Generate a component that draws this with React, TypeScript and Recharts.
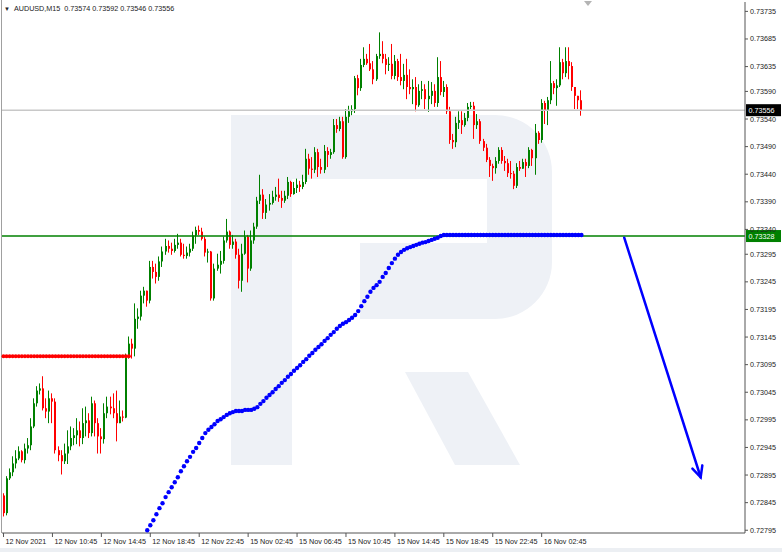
import React from 'react';
import { ComposedChart, Bar, Line, XAxis, YAxis, ReferenceLine } from 'recharts';

// AUDUSD M15 candles, open of each bar = close of the bar before
const firstOpen = 0.72858;
const closes = [
  0.72826, 0.72889, 0.729, 0.72916, 0.72925, 0.72938, 0.72922, 0.72943, 0.72949, 0.72983,
  0.73025, 0.73048, 0.73052, 0.73016, 0.7301, 0.73034, 0.73028, 0.7294, 0.72931, 0.7292,
  0.72934, 0.72947, 0.72962, 0.72967, 0.72976, 0.72962, 0.72989, 0.72994, 0.72971, 0.73025,
  0.72989, 0.72965, 0.7296, 0.73007, 0.73019, 0.73016, 0.73007, 0.72989, 0.73001, 0.72999,
  0.73112, 0.73133, 0.73124, 0.73178, 0.73182, 0.7322, 0.73229, 0.73211, 0.73272, 0.73263,
  0.73254, 0.73282, 0.733, 0.7331, 0.73305, 0.73301, 0.73312, 0.73316, 0.73294, 0.73292,
  0.73298, 0.73305, 0.73329, 0.73339, 0.73336, 0.73323, 0.73298, 0.733, 0.73215, 0.73269,
  0.73276, 0.73283, 0.7332, 0.73336, 0.73312, 0.73318, 0.73294, 0.73247, 0.73296, 0.73327,
  0.73269, 0.7332, 0.73345, 0.73392, 0.73403, 0.7337, 0.73385, 0.73388, 0.73399, 0.73403,
  0.73397, 0.73392, 0.73401, 0.73426, 0.73404, 0.73415, 0.73421, 0.73417, 0.73426, 0.73468,
  0.7345, 0.73448, 0.7348, 0.73453, 0.73448, 0.73482, 0.73475, 0.7348, 0.73529, 0.73522,
  0.73536, 0.73471, 0.73544, 0.73554, 0.73558, 0.73614, 0.73596, 0.73638, 0.73649, 0.73641,
  0.7363, 0.73612, 0.73654, 0.73658, 0.73649, 0.73638, 0.7364, 0.73618, 0.73645, 0.73616,
  0.73609, 0.7362, 0.73598, 0.73594, 0.73598, 0.73565, 0.73591, 0.73594, 0.73576, 0.73582,
  0.73591, 0.73569, 0.73616, 0.73589, 0.73598, 0.73554, 0.73502, 0.73498, 0.73533, 0.73538,
  0.73529, 0.73542, 0.73562, 0.73564, 0.73529, 0.73536, 0.735, 0.73488, 0.73466, 0.73455,
  0.73451, 0.73464, 0.73484, 0.73464, 0.7346, 0.73442, 0.73441, 0.73419, 0.73453, 0.7345,
  0.73462, 0.73455, 0.73484, 0.73469, 0.73515, 0.73502, 0.73569, 0.73556, 0.73574, 0.73605,
  0.73596, 0.73601, 0.73643, 0.73623, 0.73645, 0.73636, 0.73598, 0.73582, 0.73574, 0.73556,
];
const highs = [
  0.72862, 0.72893, 0.72907, 0.72929, 0.7294, 0.72947, 0.7294, 0.72952, 0.72962, 0.72998,
  0.73034, 0.73056, 0.73061, 0.73074, 0.73034, 0.73048, 0.73043, 0.73034, 0.72947, 0.7294,
  0.72952, 0.72976, 0.72983, 0.7298, 0.72998, 0.72992, 0.73016, 0.73019, 0.73007, 0.73037,
  0.7303, 0.72998, 0.7298, 0.73025, 0.73037, 0.73037, 0.73043, 0.73048, 0.7303, 0.73012,
  0.73115, 0.73146, 0.73142, 0.73206, 0.73197, 0.73229, 0.73236, 0.73229, 0.73283, 0.73283,
  0.73278, 0.73291, 0.73309, 0.73323, 0.7332, 0.73316, 0.73323, 0.73332, 0.73323, 0.73314,
  0.73309, 0.73314, 0.73336, 0.73345, 0.73347, 0.73343, 0.73327, 0.73305, 0.73301, 0.73278,
  0.73296, 0.73301, 0.73327, 0.73359, 0.73338, 0.7333, 0.73323, 0.73305, 0.73314, 0.73338,
  0.7333, 0.73338, 0.73352, 0.73399, 0.73439, 0.73413, 0.73395, 0.73404, 0.7341, 0.73417,
  0.73432, 0.7341, 0.7341, 0.73435, 0.73428, 0.73426, 0.73432, 0.73428, 0.73439, 0.73486,
  0.73477, 0.73471, 0.73489, 0.73486, 0.73468, 0.73493, 0.73489, 0.73486, 0.7354, 0.7354,
  0.73544, 0.73544, 0.73558, 0.73564, 0.73565, 0.73618, 0.7362, 0.73649, 0.7367, 0.73658,
  0.73676, 0.73645, 0.73658, 0.73697, 0.73681, 0.73658, 0.73652, 0.73676, 0.73656, 0.73649,
  0.73658, 0.7364, 0.73649, 0.7363, 0.73612, 0.73616, 0.73603, 0.73609, 0.73603, 0.73609,
  0.73607, 0.73603, 0.73652, 0.73645, 0.73609, 0.73603, 0.73562, 0.73513, 0.73544, 0.73554,
  0.73554, 0.73551, 0.73569, 0.73571, 0.73571, 0.73549, 0.7354, 0.73504, 0.73495, 0.73471,
  0.73459, 0.73471, 0.73489, 0.73489, 0.73473, 0.73468, 0.73464, 0.73446, 0.7346, 0.73464,
  0.73468, 0.73468, 0.73489, 0.73486, 0.73531, 0.73518, 0.73576, 0.73573, 0.7358, 0.73645,
  0.73609, 0.73612, 0.7367, 0.73649, 0.7367, 0.7367, 0.73643, 0.73598, 0.73582, 0.73592,
];
const lows = [
  0.7282, 0.72822, 0.72886, 0.72893, 0.72907, 0.72922, 0.72918, 0.72916, 0.72934, 0.7294,
  0.7298, 0.73019, 0.73041, 0.73012, 0.72998, 0.72989, 0.72989, 0.72934, 0.7292, 0.72896,
  0.72915, 0.72915, 0.7294, 0.72949, 0.72951, 0.72947, 0.72951, 0.72965, 0.72962, 0.72965,
  0.72965, 0.72934, 0.72934, 0.72952, 0.72998, 0.73005, 0.72998, 0.72956, 0.72989, 0.72992,
  0.72998, 0.73106, 0.73106, 0.7311, 0.7316, 0.73175, 0.73206, 0.732, 0.73206, 0.73251,
  0.73242, 0.73247, 0.73272, 0.73294, 0.73298, 0.73294, 0.73298, 0.73305, 0.73291, 0.73287,
  0.73287, 0.73291, 0.73301, 0.73314, 0.7333, 0.7332, 0.73291, 0.7328, 0.73211, 0.73211,
  0.73265, 0.7326, 0.73278, 0.73316, 0.73305, 0.73305, 0.73287, 0.73233, 0.73227, 0.73294,
  0.73244, 0.73265, 0.73314, 0.73341, 0.73386, 0.73359, 0.73359, 0.73374, 0.73385, 0.73392,
  0.7339, 0.73379, 0.73388, 0.73395, 0.73399, 0.73403, 0.73406, 0.73408, 0.73413, 0.73422,
  0.73439, 0.73432, 0.73442, 0.73435, 0.73441, 0.73442, 0.73453, 0.73468, 0.73477, 0.73515,
  0.73518, 0.73468, 0.73468, 0.73533, 0.73547, 0.73551, 0.73583, 0.73591, 0.73634, 0.73638,
  0.73627, 0.73603, 0.73609, 0.73649, 0.73641, 0.73621, 0.73627, 0.73612, 0.73612, 0.73609,
  0.73601, 0.73594, 0.73576, 0.73585, 0.73567, 0.73554, 0.73562, 0.73576, 0.73558, 0.73553,
  0.73567, 0.73562, 0.73562, 0.73583, 0.7358, 0.73549, 0.73495, 0.73486, 0.73489, 0.73522,
  0.73513, 0.73526, 0.73536, 0.73558, 0.73504, 0.73522, 0.73495, 0.73482, 0.73462, 0.73435,
  0.73428, 0.73441, 0.73459, 0.73459, 0.73446, 0.73435, 0.73432, 0.73413, 0.73415, 0.73446,
  0.7345, 0.73435, 0.73451, 0.73455, 0.73439, 0.73495, 0.73497, 0.73531, 0.73529, 0.73567,
  0.73585, 0.73564, 0.73598, 0.73612, 0.73616, 0.73612, 0.73591, 0.73558, 0.73558, 0.73546,
];

// red dotted level on the first bars
const levelPrice = 0.7311;
const levelBars = 42;

// blue dotted indicator, starts at bar 47
const dotsStart = 47;
const blueDots = [
  0.72795, 0.72804, 0.72813, 0.72824, 0.72835, 0.72844, 0.72855, 0.72864, 0.72873, 0.72882,
  0.72891, 0.72902, 0.72911, 0.7292, 0.72928, 0.72937, 0.72944, 0.72953, 0.72962, 0.72971,
  0.72977, 0.72982, 0.72987, 0.72993, 0.72996, 0.73, 0.73004, 0.73007, 0.73009, 0.73011,
  0.73011, 0.73011, 0.73013, 0.73013, 0.73013, 0.73015, 0.73018, 0.73024, 0.73029, 0.73035,
  0.7304, 0.73045, 0.73051, 0.73056, 0.73062, 0.73067, 0.73073, 0.73078, 0.73084, 0.73089,
  0.73094, 0.731, 0.73105, 0.73111, 0.73116, 0.73122, 0.73127, 0.73132, 0.73138, 0.73143,
  0.73149, 0.73154, 0.7316, 0.73165, 0.73169, 0.73172, 0.73176, 0.7318, 0.73185, 0.73192,
  0.73201, 0.7321, 0.73218, 0.73227, 0.73234, 0.73239, 0.73245, 0.73254, 0.73261, 0.7327,
  0.73279, 0.73287, 0.73294, 0.73299, 0.73303, 0.73306, 0.73308, 0.7331, 0.73312, 0.73314,
  0.73316, 0.73317, 0.73319, 0.73321, 0.73323, 0.73325, 0.73328, 0.7333, 0.7333, 0.7333,
  0.7333, 0.7333, 0.7333, 0.7333, 0.7333, 0.7333, 0.7333, 0.7333, 0.7333, 0.7333,
  0.7333, 0.7333, 0.7333, 0.7333, 0.7333, 0.7333, 0.7333, 0.7333, 0.7333, 0.7333,
  0.7333, 0.7333, 0.7333, 0.7333, 0.7333, 0.7333, 0.7333, 0.7333, 0.7333, 0.7333,
  0.7333, 0.7333, 0.7333, 0.7333, 0.7333, 0.7333, 0.7333, 0.7333, 0.7333, 0.7333,
  0.7333, 0.7333, 0.7333,
];

const timeLabels = [
  '12 Nov 2021', '12 Nov 10:45', '12 Nov 14:45', '12 Nov 18:45', '12 Nov 22:45', '15 Nov 02:45',
  '15 Nov 06:45', '15 Nov 10:45', '15 Nov 14:45', '15 Nov 18:45', '15 Nov 22:45', '16 Nov 02:45',
];
const priceTicks = [
  0.73735, 0.73685, 0.73635, 0.7359, 0.7354, 0.7349, 0.7344, 0.7339, 0.7334, 0.73295,
  0.73245, 0.73195, 0.73145, 0.73095, 0.73045, 0.72995, 0.72945, 0.72895, 0.72845, 0.72795,
];

const bidPrice = 0.73556;
const levelLine = 0.73328;
const arrowStart = { bar: 203, price: 0.73325 };
const arrowEnd = { bar: 228, price: 0.72891 };
const headerText = 'AUDUSD,M15  0.73574 0.73592 0.73546 0.73556';

const SLOTS = 243;
const FONT = '"Liberation Sans", Arial, sans-serif';
const UP = '#008000';
const DOWN = '#ff0000';

const data = Array.from({ length: SLOTS }, (_, i) => {
  const row: any = { i };
  if (i < closes.length) {
    row.open = i === 0 ? firstOpen : closes[i - 1];
    row.close = closes[i];
    row.high = highs[i];
    row.low = lows[i];
  }
  if (i < levelBars) row.level = levelPrice;
  const b = i - dotsStart;
  if (b >= 0 && b < blueDots.length) row.trend = blueDots[b];
  return row;
});

const Candle = (props: any) => {
  const { x, y, width, height, payload } = props;
  if (!payload || payload.high == null) return null;
  const { open, close, high, low } = payload;
  const top = Math.min(y, y + height);
  const h = Math.abs(height);
  const range = high - low || 1e-9;
  const py = (v: number) => top + ((high - v) / range) * h;
  const cx = Math.round(x + width / 2);
  const color = close > open ? UP : close < open ? DOWN : '#000';
  const b1 = py(Math.max(open, close));
  const b2 = py(Math.min(open, close));
  return (
    <g>
      <rect x={cx - 1} y={top} width={1} height={Math.max(h, 1)} fill={color} />
      <rect x={cx - 1} y={b1} width={2} height={Math.max(b2 - b1, 1)} fill={color} />
    </g>
  );
};

const dotOf = (color: string, r: number) => (p: any) =>
  p.value == null || p.cy == null ? <g key={p.key} /> : <circle key={p.key} cx={p.cx} cy={p.cy} r={r} fill={color} />;

const XTick = (p: any) => {
  const { x, y, payload } = p;
  const idx = Number(payload.value);
  const label = idx % 16 === 0 ? timeLabels[idx / 16] : undefined;
  if (!label) return null;
  return (
    <g>
      <line x1={x} x2={x} y1={y} y2={y + 4} stroke="#555" />
      <text x={x + 2} y={y + 11} fontSize={7.2} fontFamily={FONT} fill="#222">{label}</text>
    </g>
  );
};

const YTick = (p: any) => {
  const { x, y, payload } = p;
  return (
    <g>
      <line x1={x} x2={x + 3} y1={y} y2={y} stroke="#555" />
      <text x={x + 5} y={y + 2.5} fontSize={7.2} fontFamily={FONT} fill="#222">
        {Number(payload.value).toFixed(5)}
      </text>
    </g>
  );
};

const priceTag = (bg: string, value: number) => (props: any) => {
  const vb = props.viewBox || {};
  const x = (vb.x ?? 0) + (vb.width ?? 0) + 1;
  const y = vb.y ?? 0;
  return (
    <g>
      <rect x={x} y={y - 6} width={35} height={12} fill={bg} />
      <text x={x + 2.5} y={y + 2.5} fontSize={7.2} fontFamily={FONT} fill="#fff">{value.toFixed(5)}</text>
    </g>
  );
};

const ArrowShape = (p: any) => {
  const { x1, y1, x2, y2 } = p;
  if ([x1, y1, x2, y2].some((v) => v == null || isNaN(v))) return null;
  const ang = Math.atan2(y2 - y1, x2 - x1);
  const len = 12;
  const spread = Math.PI / 7;
  const ax = x2 - len * Math.cos(ang - spread);
  const ay = y2 - len * Math.sin(ang - spread);
  const bx = x2 - len * Math.cos(ang + spread);
  const by = y2 - len * Math.sin(ang + spread);
  return (
    <g stroke="#0000ff" strokeWidth={2.5} fill="none" strokeLinecap="round">
      <line x1={x1} y1={y1} x2={x2} y2={y2} />
      <polyline points={`${ax},${ay} ${x2},${y2} ${bx},${by}`} />
    </g>
  );
};

// light company logo behind the plot, plus the chart-shift marker
const Watermark = () => (
  <svg width={782} height={552} style={{ position: 'absolute', left: 0, top: 0 }}>
    <g fill="#eef1f6">
      <rect x={231} y={115} width={61} height={350} />
      <path d="M292,115 H495 A57,57 0 0 1 552,172 V262 A57,57 0 0 1 495,319 H360 V243 H487 V179 H292 Z" />
      <polygon points="405,372 468,372 520,465 455,465" />
    </g>
    <polygon points="584,1 592,1 588,6" fill="#b4b4b4" />
  </svg>
);

export default function App() {
  return (
    <div style={{ position: 'absolute', left: 0, top: 0, width: 782, height: 552, background: '#fff', overflow: 'hidden' }}>
      <Watermark />
      <div style={{ position: 'absolute', left: 1, top: 0, width: 1, height: 533, background: '#a0a0a0' }} />
      <div style={{ position: 'absolute', left: 0, top: 548, width: 782, height: 4, background: '#eceff3' }} />
      <div style={{ position: 'absolute', left: 0, top: 0 }}>
        <ComposedChart width={782} height={552} data={data} margin={{ top: 2, right: 0, bottom: 0, left: 2 }} barCategoryGap={0}>
          <XAxis dataKey="i" type="category" height={19} interval={15} tick={<XTick />} tickLine={false}
            tickSize={0} tickMargin={0} axisLine={{ stroke: '#555' }} />
          <YAxis orientation="right" type="number" width={37} domain={[0.7279, 0.73752]} allowDataOverflow
            ticks={priceTicks} interval={0} tick={<YTick />} tickLine={false} tickSize={0} tickMargin={0}
            axisLine={{ stroke: '#555' }} />
          <ReferenceLine y={bidPrice} stroke="#c8c8c8" strokeWidth={1.5} label={priceTag('#000', bidPrice)} />
          <Bar dataKey={(d: any) => (d.high == null ? null : [d.low, d.high])} shape={<Candle />} isAnimationActive={false} />
          <ReferenceLine y={levelLine} stroke="#008000" strokeWidth={1.5} label={priceTag('#008000', levelLine)} />
          <Line dataKey="level" stroke="none" dot={dotOf('#ff0000', 2)} activeDot={false} isAnimationActive={false} />
          <Line dataKey="trend" stroke="none" dot={dotOf('#0000ff', 2.2)} activeDot={false} isAnimationActive={false} />
          <ReferenceLine
            segment={[{ x: arrowStart.bar, y: arrowStart.price }, { x: arrowEnd.bar, y: arrowEnd.price }]}
            shape={ArrowShape}
          />
        </ComposedChart>
      </div>
      <div style={{ position: 'absolute', left: 4, top: 4, fontFamily: FONT, fontSize: 7.2, color: '#222', whiteSpace: 'pre' }}>
        <span style={{ fontSize: 6, marginRight: 4 }}>▼</span>{headerText}
      </div>
    </div>
  );
}
